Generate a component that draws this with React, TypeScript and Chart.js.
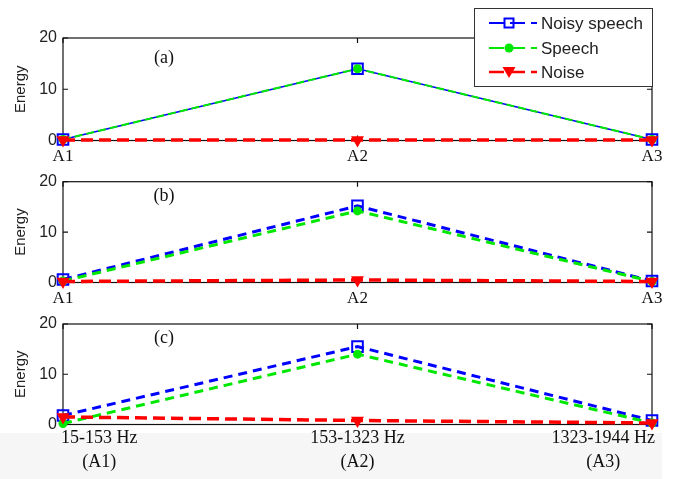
import React, { useEffect, useRef } from 'react';
import { Chart, registerables } from 'chart.js';

Chart.register(...registerables);

// ---------- data ----------
const CATEGORIES = ['A1', 'A2', 'A3'];
const BAND_LABELS = ['15-153 Hz', '153-1323 Hz', '1323-1944 Hz'];
const BAND_CODES = ['(A1)', '(A2)', '(A3)'];
const SERIES_NAMES = ['Noisy speech', 'Speech', 'Noise'];
const PANEL_LETTERS = ['(a)', '(b)', '(c)'];
const Y_MIN = 0;
const Y_MAX = 20;
const Y_STEP = 10;

const NOISY_A = [0.2, 14, 0.2];
const SPEECH_A = [0.2, 14, 0.2];
const NOISE_A = [0.1, 0.1, 0.1];

const NOISY_B = [0.6, 15.2, 0.3];
const SPEECH_B = [0.3, 14.2, 0.2];
const NOISE_B = [0.2, 0.5, 0.2];

const NOISY_C = [1.8, 15.5, 0.8];
const SPEECH_C = [0.2, 14, 0.3];
const NOISE_C = [1.5, 0.8, 0.3];

// ---------- styles ----------
const BLUE = '#0000ff';
const GREEN = '#00e800';
const RED = '#ff0000';
const SANS = '"Liberation Sans", Arial, sans-serif';
const SERIF = '"Liberation Serif", "Times New Roman", serif';

type Panel = {
  top: number;
  height: number;
  padTop: number;
  xHeight: number;
  letterY: number;
  data: number[][];
  bands: boolean;
  legend: boolean;
  thin: boolean;
  letter: string;
};

const PANELS: Panel[] = [
  { top: 0, height: 180, padTop: 38, xHeight: 39.5, letterY: 58, data: [NOISY_A, SPEECH_A, NOISE_A], bands: false, legend: true, thin: true, letter: PANEL_LETTERS[0] },
  { top: 160, height: 160, padTop: 21.7, xHeight: 37.5, letterY: 36.5, data: [NOISY_B, SPEECH_B, NOISE_B], bands: false, legend: false, thin: false, letter: PANEL_LETTERS[1] },
  { top: 300, height: 179, padTop: 24, xHeight: 54.5, letterY: 38, data: [NOISY_C, SPEECH_C, NOISE_C], bands: true, legend: false, thin: false, letter: PANEL_LETTERS[2] },
];

function drawMarker(ctx: CanvasRenderingContext2D, kind: number, x: number, y: number) {
  ctx.save();
  ctx.setLineDash([]);
  if (kind === 0) {
    ctx.strokeStyle = BLUE;
    ctx.lineWidth = 2;
    ctx.strokeRect(x - 4.5, y - 4.5, 9, 9);
  } else if (kind === 1) {
    ctx.fillStyle = GREEN;
    ctx.beginPath();
    ctx.arc(x, y, 4.5, 0, Math.PI * 2);
    ctx.fill();
  } else {
    ctx.fillStyle = RED;
    ctx.beginPath();
    ctx.moveTo(x - 6.5, y - 5);
    ctx.lineTo(x + 6.5, y - 5);
    ctx.lineTo(x, y + 6);
    ctx.closePath();
    ctx.fill();
  }
  ctx.restore();
}

const framePlugin = {
  id: 'frameTicks',
  beforeDatasetsDraw(chart: any) {
    const { ctx, chartArea } = chart;
    const { left, right, top, bottom } = chartArea;
    const xs = chart.scales.x;
    const ys = chart.scales.y;
    ctx.save();
    ctx.strokeStyle = '#111';
    ctx.lineWidth = 1.2;
    ctx.strokeRect(left, top, right - left, bottom - top);
    ctx.beginPath();
    ys.ticks.forEach((t: any) => {
      const py = ys.getPixelForValue(t.value);
      ctx.moveTo(left, py); ctx.lineTo(left + 5, py);
      ctx.moveTo(right, py); ctx.lineTo(right - 5, py);
    });
    CATEGORIES.forEach((_c, i) => {
      const px = xs.getPixelForValue(i);
      ctx.moveTo(px, bottom); ctx.lineTo(px, bottom - 5);
      ctx.moveTo(px, top); ctx.lineTo(px, top + 5);
    });
    ctx.stroke();
    ctx.restore();
  },
  afterDraw(chart: any) {
    const { ctx, chartArea } = chart;
    const p: Panel = chart.options.plugins.frameTicks.panel;
    ctx.save();
    // panel letter
    ctx.fillStyle = '#111';
    ctx.font = `18px ${SERIF}`;
    ctx.textAlign = 'center';
    ctx.textBaseline = 'middle';
    ctx.fillText(p.letter, chartArea.left + 101, p.letterY);

    // two-line band labels under panel (c)
    if (p.bands) {
      const xs = chart.scales.x;
      ctx.font = `18px ${SERIF}`;
      ctx.fillStyle = '#111';
      BAND_LABELS.forEach((lab, i) => {
        const px = xs.getPixelForValue(i);
        const w = ctx.measureText(lab).width;
        let cx = px;
        if (i === 0) cx = px - 2 + w / 2;
        else if (i === BAND_LABELS.length - 1) cx = px + 3 - w / 2;
        ctx.textAlign = 'center';
        ctx.textBaseline = 'middle';
        ctx.fillText(lab, cx, chartArea.bottom + 14);
        ctx.fillText(BAND_CODES[i], cx, chartArea.bottom + 38);
      });
    }

    // legend
    if (p.legend) {
      const bx = 474.5, by = 8.5, bw = 178, bh = 78;
      ctx.fillStyle = '#ffffff';
      ctx.fillRect(bx, by, bw, bh);
      ctx.strokeStyle = '#333';
      ctx.lineWidth = 1;
      ctx.strokeRect(bx, by, bw, bh);
      const rows = [23, 48, 72];
      const colors = [BLUE, GREEN, RED];
      SERIES_NAMES.forEach((name, i) => {
        const y = rows[i];
        ctx.strokeStyle = colors[i];
        ctx.lineWidth = i === 2 ? 2.5 : 2;
        ctx.setLineDash([15, 6]);
        ctx.beginPath();
        ctx.moveTo(489, y);
        ctx.lineTo(537, y);
        ctx.stroke();
        ctx.setLineDash([]);
        drawMarker(ctx, i, 509, y);
        ctx.fillStyle = '#222';
        ctx.font = `17px ${SANS}`;
        ctx.textAlign = 'left';
        ctx.textBaseline = 'middle';
        ctx.fillText(name, 541, y + 1);
      });
    }
    ctx.restore();
  },
};

function PanelChart({ panel }: { panel: Panel }) {
  const ref = useRef<HTMLCanvasElement | null>(null);
  useEffect(() => {
    if (!ref.current) return;
    const p = panel;
    const [noisy, speech, noise] = p.data;
    const chart = new Chart(ref.current, {
      type: 'line',
      data: {
        labels: CATEGORIES,
        datasets: [
          {
            label: SERIES_NAMES[0],
            data: noisy,
            borderColor: BLUE,
            backgroundColor: 'rgba(0,0,0,0)',
            borderWidth: p.thin ? 1.5 : 3,
            borderDash: p.thin ? [] : [9, 6],
            pointStyle: 'rect',
            pointRadius: 7.5,
            pointBorderWidth: 2,
            pointBorderColor: BLUE,
            pointBackgroundColor: 'rgba(0,0,0,0)',
            tension: 0,
            clip: false as any,
            order: 2,
          },
          {
            label: SERIES_NAMES[1],
            data: speech,
            borderColor: GREEN,
            backgroundColor: GREEN,
            borderWidth: p.thin ? 2 : 3,
            borderDash: p.thin ? [8, 4] : [9, 6],
            pointStyle: 'circle',
            pointRadius: 4.5,
            pointBorderWidth: 0,
            pointBackgroundColor: GREEN,
            tension: 0,
            clip: false as any,
            order: 1,
          },
          {
            label: SERIES_NAMES[2],
            data: noise,
            borderColor: RED,
            backgroundColor: RED,
            borderWidth: 3.5,
            borderDash: [12, 6],
            pointStyle: 'triangle',
            rotation: 180,
            pointRadius: 7.5,
            pointBorderWidth: 0,
            pointBackgroundColor: RED,
            tension: 0,
            clip: false as any,
            order: 0,
          },
        ],
      },
      options: {
        animation: false,
        responsive: false,
        devicePixelRatio: 1,
        layout: { padding: { top: p.padTop, right: 24, left: 0, bottom: 0 } },
        plugins: {
          legend: { display: false },
          tooltip: { enabled: false },
          frameTicks: { panel: p },
        } as any,
        scales: {
          x: {
            type: 'category',
            offset: false,
            grid: { display: false, drawTicks: false },
            border: { display: false },
            ticks: {
              display: !p.bands,
              font: { family: SERIF, size: 17 },
              color: '#111',
              padding: 6,
              maxRotation: 0,
              autoSkip: false,
            },
            afterFit: (s: any) => { s.height = p.xHeight; },
          },
          y: {
            min: Y_MIN,
            max: Y_MAX,
            grid: { display: false, drawTicks: false },
            border: { display: false },
            ticks: {
              stepSize: Y_STEP,
              font: { family: SANS, size: 16 },
              color: '#222',
              padding: 6,
            },
            title: {
              display: true,
              text: 'Energy',
              font: { family: SANS, size: 15 },
              color: '#222',
              padding: { top: 12, bottom: 0 },
            },
            afterFit: (s: any) => { s.width = 63; },
          },
        },
      } as any,
      plugins: [framePlugin],
    });
    return () => chart.destroy();
  }, [panel]);
  return (
    <canvas
      ref={ref}
      width={676}
      height={panel.height}
      style={{ position: 'absolute', left: 0, top: panel.top, width: 676, height: panel.height, display: 'block' }}
    />
  );
}

export default function App() {
  return (
    <div style={{ position: 'fixed', left: 0, top: 0, width: 676, height: 479, background: '#ffffff', overflow: 'hidden' }}>
      <div style={{ position: 'absolute', left: 0, top: 433, width: 662, height: 46, background: '#f6f6f6' }} />
      {PANELS.map((p, i) => (
        <PanelChart key={i} panel={p} />
      ))}
    </div>
  );
}
